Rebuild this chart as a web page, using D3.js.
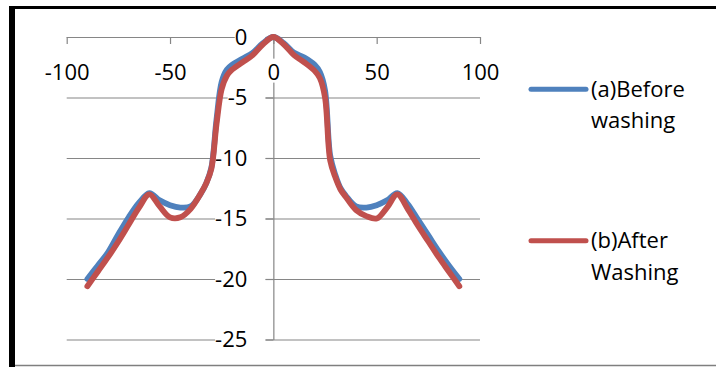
<!DOCTYPE html>
<html>
<head>
<meta charset="utf-8">
<script src="https://cdn.jsdelivr.net/npm/d3@7"></script>
<style>
  body { margin: 0; background: #fff; }
  svg { display: block; font-family: "Open Sans", sans-serif; }
  .grid line { stroke: #868686; stroke-width: 1.2; }
  .axis path, .axis line { stroke: #868686; stroke-width: 1.2; }
  .labels text { font-size: 22px; fill: #000; }
  .legend text { font-size: 22px; fill: #000; }
</style>
</head>
<body>
<div id="chart"></div>
<script>
// Data (finer steps where the curves drop steeply)
var angles = [-90, -85, -80, -75, -70, -65, -60, -55, -50, -45, -40, -35,
  -32.5, -30, -27.5, -25, -22.5,
  -20, -15, -10, -5, 0, 5, 10, 15, 20,
  22.5, 25, 27.5, 30, 32.5,
  35, 40, 45, 50, 55, 60, 65, 70, 75, 80, 85, 90];

var beforeWashing = [-20.0, -18.9, -17.8, -16.3, -14.9, -13.7, -12.9, -13.5, -13.9, -14.1, -14.0, -12.9,
  -12.1, -10.8, -6.8, -3.7, -2.7,
  -2.3, -1.8, -1.3, -0.5, 0, -0.5, -1.3, -1.7, -2.3,
  -2.9, -4.4, -9.8, -11.4, -12.5,
  -13.1, -14.0, -14.1, -13.9, -13.5, -12.9, -13.8, -15.1, -16.4, -17.7, -18.9, -20.0];

var afterWashing = [-20.6, -19.4, -18.2, -16.9, -15.5, -14.1, -13.0, -14.0, -14.9, -14.9, -14.2, -12.9,
  -12.1, -10.9, -7.2, -4.3, -3.2,
  -2.7, -2.1, -1.5, -0.6, 0, -0.6, -1.5, -2.1, -2.8,
  -3.4, -5.0, -10.2, -11.6, -12.6,
  -13.2, -14.3, -14.8, -15.0, -14.1, -13.0, -14.2, -15.6, -16.9, -18.2, -19.4, -20.6];

var xTicks = [-100, -50, 0, 50, 100];
var yTicks = [0, -5, -10, -15, -20, -25];

var legendLabels = [["(a)Before", "washing"], ["(b)After", "Washing"]];

var COLORS = ["#4F81BD", "#C0504D"];

var width = 716;
var height = 367;

var svg = d3.select("#chart")
  .append("svg")
  .attr("width", width)
  .attr("height", height);

// Frame: thick black left/top edges, thin gray bottom
svg.append("rect").attr("width", width).attr("height", height).attr("fill", "#fff");
svg.append("line")
  .attr("x1", 15).attr("x2", width)
  .attr("y1", 365.5).attr("y2", 365.5)
  .attr("stroke", "#7f7f7f").attr("stroke-width", 1.5);
svg.append("rect").attr("x", 9).attr("y", 6).attr("width", width - 9).attr("height", 3).attr("fill", "#000");
svg.append("rect").attr("x", 9).attr("y", 6).attr("width", 6).attr("height", height - 6).attr("fill", "#000");

// Scales
var xScale = d3.scaleLinear().domain([-100, 100]).range([66.7, 480]);
var yScale = d3.scaleLinear().domain([0, -25]).range([37, 339.5]);

// Horizontal gridlines
svg.append("g")
  .attr("class", "grid")
  .attr("transform", "translate(" + xScale(-100) + ",0)")
  .call(d3.axisRight(yScale).tickValues(yTicks).tickSize(xScale(100) - xScale(-100)).tickFormat(""))
  .call(g => g.select(".domain").remove());

// Axis lines and tick marks
svg.append("g")
  .attr("class", "x axis")
  .attr("transform", "translate(0," + yScale(0) + ")")
  .call(d3.axisBottom(xScale).tickValues(xTicks).tickSize(7).tickSizeOuter(0).tickFormat(""));

svg.append("g")
  .attr("class", "y axis")
  .attr("transform", "translate(" + xScale(0) + ",0)")
  .call(d3.axisLeft(yScale).tickValues(yTicks).tickSize(8).tickSizeOuter(0).tickFormat(""));

// Tick labels on white boxes (they hide the lines behind them)
var addBoxes = function(g, toX) {
  g.selectAll(".tick").each(function() {
    var tick = d3.select(this);
    var box = tick.select("text").node().getBBox();
    var x1 = toX === undefined ? box.x + box.width : toX;
    tick.insert("rect", "text")
      .attr("x", box.x)
      .attr("y", box.y + 3)
      .attr("width", x1 - box.x)
      .attr("height", box.height - 6)
      .attr("fill", "#fff");
  });
};

var xLabels = svg.append("g")
  .attr("class", "labels")
  .attr("transform", "translate(0," + yScale(0) + ")")
  .call(d3.axisBottom(xScale).tickValues(xTicks).tickSize(0).tickPadding(27).tickFormat(d => String(d)))
  .call(g => g.select(".domain").remove());
xLabels.attr("font-size", null).attr("font-family", null);
addBoxes(xLabels);

var yLabels = svg.append("g")
  .attr("class", "labels")
  .attr("transform", "translate(" + xScale(0) + ",0)")
  .call(d3.axisLeft(yScale).tickValues(yTicks).tickSize(0).tickPadding(26).tickFormat(d => String(d)))
  .call(g => g.select(".domain").remove());
yLabels.attr("font-size", null).attr("font-family", null);
addBoxes(yLabels, -8);

// Series
var series = [beforeWashing, afterWashing].map(function(values) {
  return angles.map((a, i) => ({ angle: a, value: values[i] }));
});

var line = d3.line()
  .x(d => xScale(d.angle))
  .y(d => yScale(d.value))
  .curve(d3.curveCatmullRom.alpha(0.5));

svg.append("g")
  .attr("class", "series")
  .selectAll("path")
  .data(series)
  .enter()
  .append("path")
  .attr("d", line)
  .attr("fill", "none")
  .attr("stroke", (d, i) => COLORS[i])
  .attr("stroke-width", 5.8)
  .attr("stroke-linecap", "round")
  .attr("stroke-linejoin", "round");

// Legend
var legendY = [89.3, 240.7];

var legend = svg.append("g")
  .attr("class", "legend")
  .selectAll("g")
  .data(legendLabels)
  .enter()
  .append("g")
  .attr("transform", (d, i) => "translate(0," + legendY[i] + ")");

legend.append("line")
  .attr("x1", 531).attr("x2", 586)
  .attr("stroke", (d, i) => COLORS[i])
  .attr("stroke-width", 5)
  .attr("stroke-linecap", "round");

legend.append("text")
  .selectAll("tspan")
  .data(d => d)
  .enter()
  .append("tspan")
  .attr("x", 591)
  .attr("y", (d, i) => 7.5 + i * 31.7)
  .text(d => d);
</script>
</body>
</html>
